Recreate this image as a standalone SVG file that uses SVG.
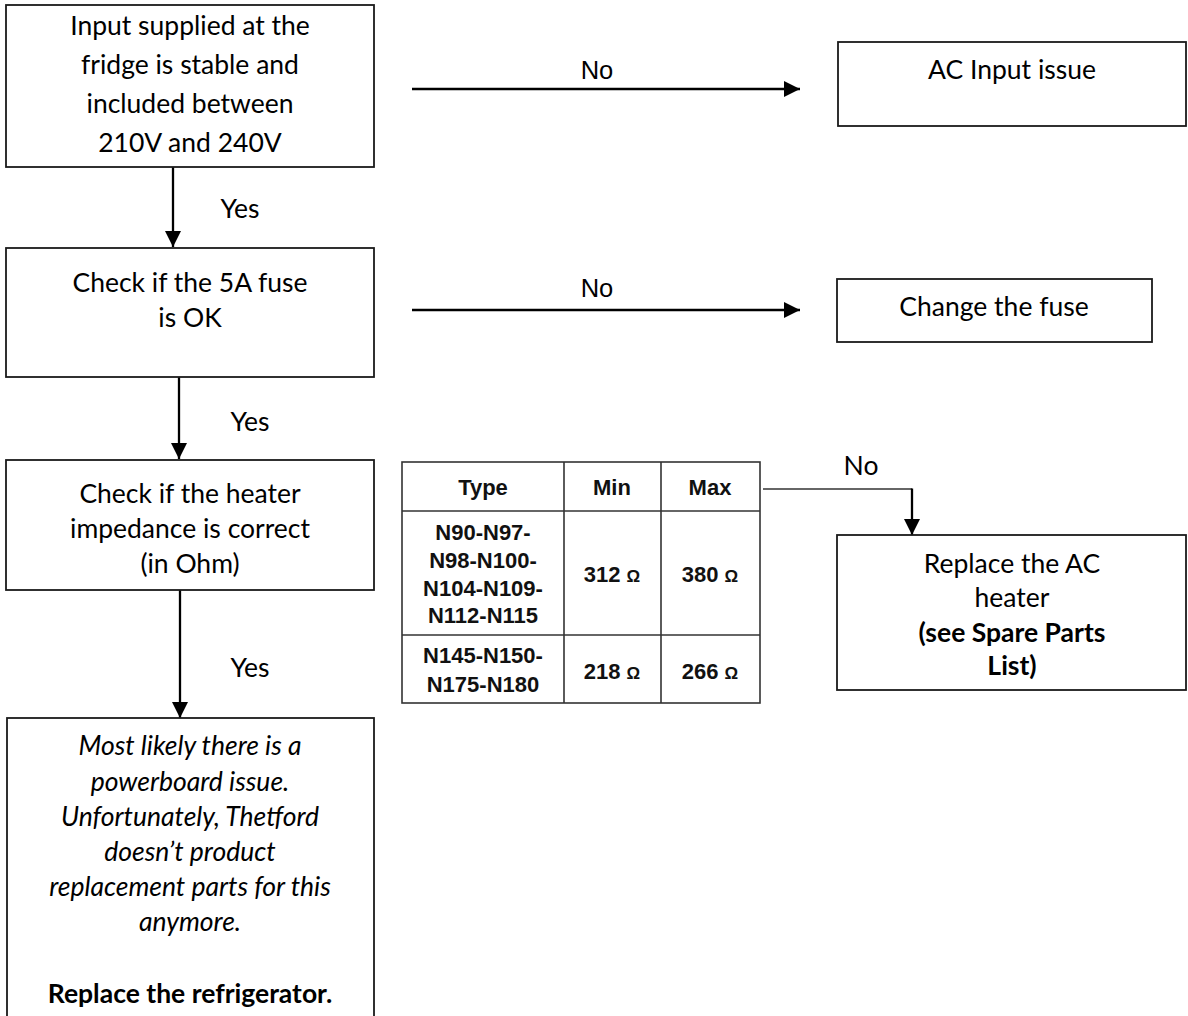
<svg xmlns="http://www.w3.org/2000/svg" width="1188" height="1016" viewBox="0 0 1188 1016">
<style>
.box{fill:#fff;stroke:#1a1a1a;stroke-width:1.8}
.t{font-family:Lato,"Liberation Sans",sans-serif;font-size:26.5px;fill:#000;text-anchor:middle}
.i{font-style:italic}
.b{font-weight:bold}
.lbl{font-family:"Liberation Sans",Arial,sans-serif;font-size:25.5px;fill:#000;text-anchor:middle}
.tb{font-family:"Liberation Sans",Arial,sans-serif;font-size:22px;font-weight:bold;fill:#111;text-anchor:middle}
.om{font-size:17px}
.grid{fill:none;stroke:#333;stroke-width:1.6}
.con{fill:none;stroke:#000;stroke-width:2.3}
.thin{fill:none;stroke:#333;stroke-width:1.3}
</style>
<defs>
<marker id="ah" markerUnits="userSpaceOnUse" markerWidth="16" markerHeight="16" refX="16" refY="8" orient="auto">
<path d="M0,0 L16,8 L0,16 z" fill="#000"/>
</marker>
</defs>
<rect width="1188" height="1016" fill="#fff"/>

<g id="connectors">
<line class="con" x1="173" y1="167" x2="173" y2="247" marker-end="url(#ah)"/>
<line class="con" x1="179" y1="377" x2="179" y2="459" marker-end="url(#ah)"/>
<line class="con" x1="180" y1="590" x2="180" y2="718" marker-end="url(#ah)"/>
<line class="con" x1="412" y1="89" x2="800" y2="89" marker-end="url(#ah)"/>
<line class="con" x1="412" y1="310" x2="800" y2="310" marker-end="url(#ah)"/>
<polyline class="thin" points="763,489 912,489"/>
<line class="con" x1="912" y1="488.5" x2="912" y2="535" marker-end="url(#ah)"/>
<text class="t" x="240" y="218">Yes</text>
<text class="t" x="250" y="431">Yes</text>
<text class="t" x="250" y="677">Yes</text>
<text class="lbl" x="597" y="79">No</text>
<text class="lbl" x="597" y="297">No</text>
<text class="t" x="861" y="475">No</text>
</g>

<g id="node-input">
<rect class="box" x="6" y="5" width="368" height="162"/>
<text class="t" x="190" y="35">Input supplied at the</text>
<text class="t" x="190" y="74">fridge is stable and</text>
<text class="t" x="190" y="113">included between</text>
<text class="t" x="190" y="152">210V and 240V</text>
</g>

<g id="node-fuse">
<rect class="box" x="6" y="248" width="368" height="129"/>
<text class="t" x="190" y="292">Check if the 5A fuse</text>
<text class="t" x="190" y="327">is OK</text>
</g>

<g id="node-heater">
<rect class="box" x="6" y="460" width="368" height="130"/>
<text class="t" x="190" y="503">Check if the heater</text>
<text class="t" x="190" y="538">impedance is correct</text>
<text class="t" x="190" y="573">(in Ohm)</text>
</g>

<g id="node-powerboard">
<rect class="box" x="7" y="718" width="367" height="320"/>
<text class="t i" x="190" y="755">Most likely there is a</text>
<text class="t i" x="190" y="791">powerboard issue.</text>
<text class="t i" x="190" y="826">Unfortunately, Thetford</text>
<text class="t i" x="190" y="861">doesn’t product</text>
<text class="t i" x="190" y="896">replacement parts for this</text>
<text class="t i" x="190" y="931">anymore.</text>
<text class="t b" x="190" y="1003">Replace the refrigerator.</text>
</g>

<g id="node-ac-input">
<rect class="box" x="838" y="42" width="348" height="84"/>
<text class="t" x="1012" y="79">AC Input issue</text>
</g>

<g id="node-change-fuse">
<rect class="box" x="837" y="279" width="315" height="63"/>
<text class="t" x="994" y="316">Change the fuse</text>
</g>

<g id="node-replace-heater">
<rect class="box" x="837" y="535" width="349" height="155"/>
<text class="t" x="1012" y="573">Replace the AC</text>
<text class="t" x="1012" y="607">heater</text>
<text class="t b" x="1012" y="642">(see Spare Parts</text>
<text class="t b" x="1012" y="675">List)</text>
</g>

<g id="node-table">
<rect class="grid" x="402" y="462" width="358" height="241" fill="#fff"/>
<line class="grid" x1="402" y1="511" x2="760" y2="511"/>
<line class="grid" x1="402" y1="635" x2="760" y2="635"/>
<line class="grid" x1="564" y1="462" x2="564" y2="703"/>
<line class="grid" x1="661" y1="462" x2="661" y2="703"/>
<text class="tb" x="483" y="495">Type</text>
<text class="tb" x="612" y="495">Min</text>
<text class="tb" x="710" y="495">Max</text>
<text class="tb" x="483" y="540">N90-N97-</text>
<text class="tb" x="483" y="568">N98-N100-</text>
<text class="tb" x="483" y="596">N104-N109-</text>
<text class="tb" x="483" y="623">N112-N115</text>
<text class="tb" x="612" y="582">312 <tspan class="om">Ω</tspan></text>
<text class="tb" x="710" y="582">380 <tspan class="om">Ω</tspan></text>
<text class="tb" x="483" y="663">N145-N150-</text>
<text class="tb" x="483" y="692">N175-N180</text>
<text class="tb" x="612" y="679">218 <tspan class="om">Ω</tspan></text>
<text class="tb" x="710" y="679">266 <tspan class="om">Ω</tspan></text>
</g>
</svg>
